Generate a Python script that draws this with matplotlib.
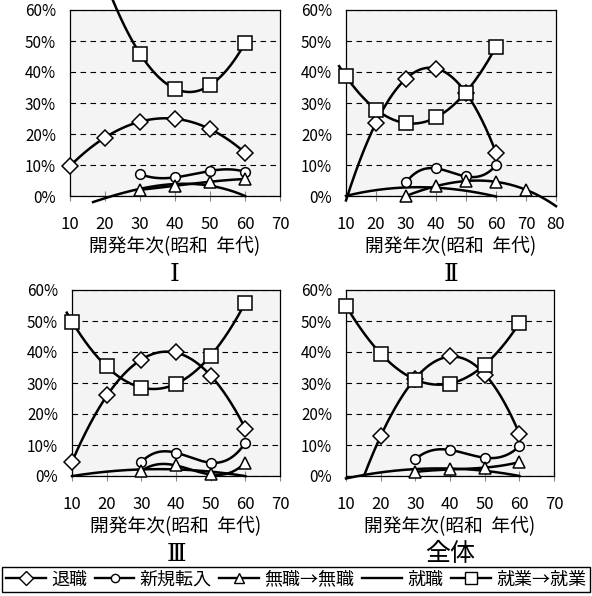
import numpy as np
import matplotlib.pyplot as plt
from matplotlib.lines import Line2D

plt.rcParams['font.family'] = ['Noto Sans CJK JP', 'DejaVu Sans']

nan = np.nan
decades = [10, 20, 30, 40, 50, 60, 70]

# 退職, 新規転入, 無職→無職, 就職, 就業→就業 (% by 開発年次)
taishoku_1 = [9.7, 18.8, 24.0, 25.0, 21.5, 14.0, nan]
shinki_1 = [nan, nan, 7.1, 6.0, 8.1, 7.8, nan]
mushoku_1 = [nan, nan, 2.0, 3.3, 4.6, 5.5, nan]
shushoku_1 = [nan, -0.7, 2.3, 3.9, 3.3, 0.0, nan]
shugyo_1 = [nan, nan, 45.9, 34.6, 35.7, 49.3, nan]

taishoku_2 = [nan, 23.6, 37.9, 41.1, 33.3, 14.0, nan]
shinki_2 = [nan, nan, 4.4, 8.9, 6.3, 9.9, nan]
mushoku_2 = [nan, nan, 0.0, 3.2, 4.8, 4.6, 2.0]
shushoku_2 = [0.0, 2.0, 2.7, 2.6, 1.8, -0.2, nan]
shugyo_2 = [38.6, 27.9, 23.4, 25.6, 33.3, 48.2, nan]

taishoku_3 = [4.5, 26.0, 37.3, 39.9, 32.4, 15.3, nan]
shinki_3 = [nan, nan, 4.5, 7.5, 4.3, 10.7, nan]
mushoku_3 = [nan, nan, 1.6, 3.4, 0.5, 4.3, nan]
shushoku_3 = [0.0, 1.3, 2.2, 2.2, 1.3, 0.0, nan]
shugyo_3 = [49.8, 35.4, 28.4, 29.8, 38.8, 55.9, nan]

taishoku_all = [nan, 12.9, 31.3, 38.8, 32.7, 13.7, nan]
shinki_all = [nan, nan, 5.4, 8.4, 5.9, 9.6, nan]
mushoku_all = [nan, nan, 1.3, 2.1, 2.7, 4.5, nan]
shushoku_all = [-0.8, 1.2, 2.2, 2.4, 1.7, 0.0, nan]
shugyo_all = [54.9, 39.5, 31.1, 29.8, 35.9, 49.3, nan]

series_names = ['退職', '新規転入', '無職→無職', '就職', '就業→就業']
markers = ['D', 'o', '^', None, 's']
msizes = [8, 7, 8.5, 0, 9.5]

W, H = 592, 596
fig = plt.figure(figsize=(W / 100, H / 100), dpi=100)


def px_rect(l, t, r, b):
    return [l / W, 1 - b / H, (r - l) / W, (b - t) / H]


panels = [
    ('Ⅰ', px_rect(70, 10, 280, 196), 70,
     [taishoku_1, shinki_1, mushoku_1, shushoku_1, shugyo_1],
     {3: (16.6, 60), 4: (20, 60)}),
    ('Ⅱ', px_rect(346, 10, 556, 196), 80,
     [taishoku_2, shinki_2, mushoku_2, shushoku_2, shugyo_2],
     {0: (10, 60), 2: (30, 80), 4: (7.7, 60)}),
    ('Ⅲ', px_rect(72, 290, 280, 476), 70,
     [taishoku_3, shinki_3, mushoku_3, shushoku_3, shugyo_3],
     {4: (8.5, 60)}),
    ('全体', px_rect(346, 290, 554, 476), 70,
     [taishoku_all, shinki_all, mushoku_all, shushoku_all, shugyo_all],
     {0: (15.3, 60)}),
]

for title, rect, xmax, data, spans in panels:
    ax = fig.add_axes(rect)
    ax.set_facecolor('#f4f4f4')
    x = np.array(decades, dtype=float)
    for i, vals in enumerate(data):
        y = np.array(vals, dtype=float)
        ok = ~np.isnan(y)
        xs, ys = x[ok], y[ok]
        deg = min(3, len(xs) - 1)
        coef = np.polyfit(xs, ys, deg)
        lo, hi = spans.get(i, (xs.min(), xs.max()))
        xx = np.linspace(lo, hi, 300)
        ax.plot(xx, np.polyval(coef, xx), color='black', lw=1.8,
                clip_on=False, zorder=3)
        if markers[i]:
            ax.plot(xs, ys, ls='none', marker=markers[i], ms=msizes[i],
                    mfc='white', mec='black', mew=1.1, clip_on=False, zorder=4)

    ax.set_xlim(10, xmax)
    ax.set_ylim(0, 60)
    ax.set_xticks(range(10, xmax + 1, 10))
    ax.set_yticks(range(0, 61, 10))
    ax.set_yticklabels(['%d%%' % v for v in range(0, 61, 10)])
    ax.yaxis.grid(True, ls=(0, (5, 4)), color='black', lw=0.8)
    ax.set_axisbelow(True)
    ax.tick_params(axis='y', length=0, pad=10, labelsize=11)
    ax.tick_params(axis='x', direction='inout', length=7, color='#888888',
                   pad=11, labelsize=12)
    for s in ax.spines.values():
        s.set_color('black')
        s.set_linewidth(0.9)
    ax.text(0.5, -0.27, '開発年次(昭和  年代)', transform=ax.transAxes,
            ha='center', va='center', fontsize=13.5)
    ax.text(0.5, -0.42, title, transform=ax.transAxes, ha='center',
            va='center', fontsize=18,
            family=['DejaVu Serif', 'Noto Sans CJK JP'])

handles = []
for m, ms in zip(markers, msizes):
    handles.append(Line2D([], [], color='black', lw=1.7, marker=m,
                          ms=ms * 0.85 if m else 0, mfc='white', mec='black',
                          mew=1.0))
leg = fig.legend(handles, series_names, loc='upper left', ncol=5,
                 bbox_to_anchor=(0.004, 0, 0.992, 1 - 567 / H), mode='expand',
                 fontsize=13, handlelength=2.2, handletextpad=0.3,
                 columnspacing=0.3, borderpad=0.2, borderaxespad=0,
                 fancybox=False, framealpha=1, numpoints=1)
leg.get_frame().set_edgecolor('black')
leg.get_frame().set_linewidth(1.0)

fig.savefig('out.png', dpi=100)
